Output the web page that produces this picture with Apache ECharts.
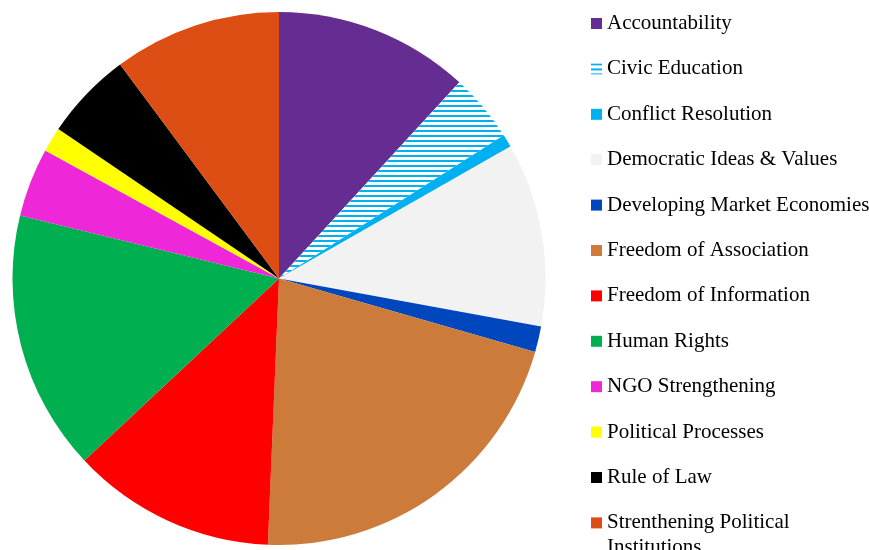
<!DOCTYPE html>
<html>
<head>
<meta charset="utf-8">
<script src="https://cdn.jsdelivr.net/npm/echarts@6/dist/echarts.min.js"></script>
<style>
  html, body { margin: 0; padding: 0; background: #fff; }
  #chart { width: 869px; height: 550px; }
</style>
</head>
<body>
<div id="chart"></div>
<script>
  // slice sizes (degrees of the circle)
  const categories = [
    'Accountability', 'Civic Education', 'Conflict Resolution', 'Democratic Ideas & Values',
    'Developing Market Economies', 'Freedom of Association', 'Freedom of Information',
    'Human Rights', 'NGO Strengthening', 'Political Processes', 'Rule of Law',
    'Strenthening Political Institutions'
  ];
  const values = [42.6, 14.9, 2.8, 40.1, 5.6, 76.4, 44.5, 56.8, 15.0, 5.4, 19.3, 36.6];
  const colors = [
    '#652D91', '#FFFFFF', '#00B0F0', '#F2F2F2', '#0047BD', '#CC7B3A',
    '#FF0000', '#00B050', '#EE28D8', '#FFFF00', '#000000', '#DD4E14'
  ];

  let chart = echarts.init(document.getElementById('chart'));

  let data = categories.map((name, i) => {
    let item = { name: name, value: values[i], itemStyle: { color: colors[i] } };
    if (name === 'Civic Education') {
      // white slice with horizontal blue stripes
      item.itemStyle.decal = {
        symbol: 'rect',
        symbolSize: 1,
        dashArrayX: [1, 0],
        dashArrayY: [2, 3],
        rotation: 0,
        color: '#00B0F0'
      };
    }
    return item;
  });

  let option = {
    animation: false,
    legend: {
      orient: 'vertical',
      left: 586,
      top: 7.5,
      padding: 5,
      icon: 'rect',
      itemWidth: 11,
      itemHeight: 11,
      itemGap: 23.4,
      textStyle: {
        fontFamily: 'Liberation Serif',
        fontSize: 21,
        lineHeight: 22,
        color: '#000'
      },
      formatter: function (name) {
        return name === 'Strenthening Political Institutions' ? 'Strenthening Political' : name;
      },
      data: categories
    },
    graphic: [{
      type: 'text',
      left: 607,
      top: 537,
      style: { text: 'Institutions', font: '21px "Liberation Serif"', fill: '#000' }
    }],
    series: [{
      type: 'pie',
      center: [279, 278.5],
      radius: 266.5,
      startAngle: 90,
      clockwise: true,
      label: { show: false },
      labelLine: { show: false },
      emphasis: { disabled: true },
      itemStyle: { borderWidth: 0 },
      data: data
    }]
  };
  chart.setOption(option);
</script>
</body>
</html>
